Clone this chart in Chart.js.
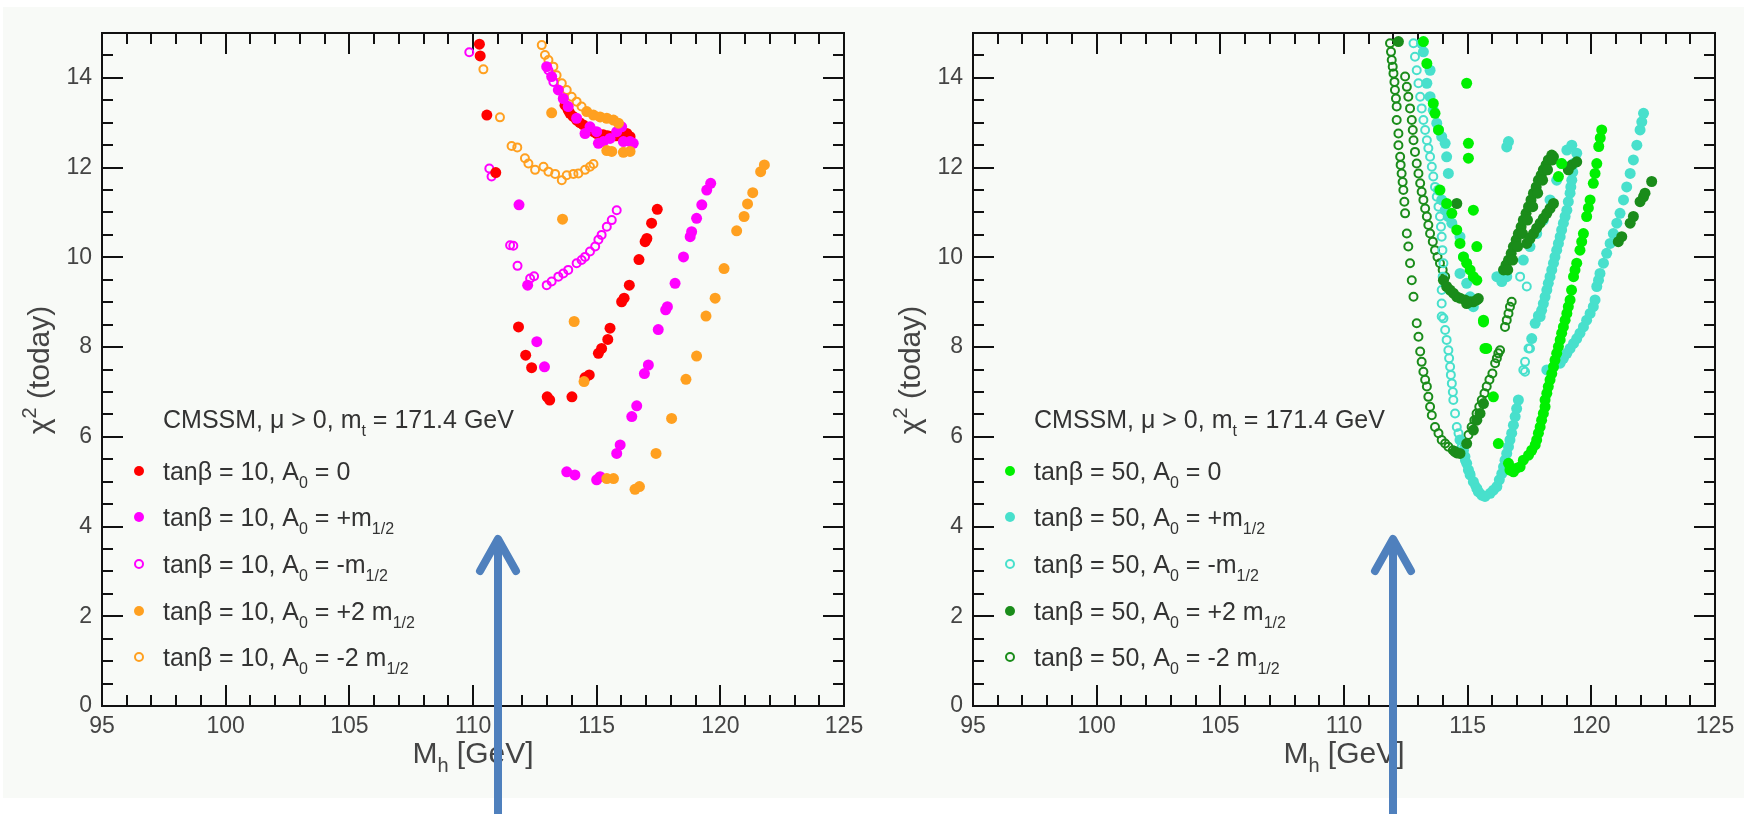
<!DOCTYPE html>
<html>
<head>
<meta charset="utf-8">
<script src="https://cdn.jsdelivr.net/npm/chart.js@4.4.1/dist/chart.umd.min.js"></script>
<style>
  html, body { margin: 0; padding: 0; background: #fff; }
  body { width: 1744px; height: 814px; position: relative; overflow: hidden; }
  #paper { position: absolute; left: 3px; top: 7px; width: 1741px; height: 791px; background: #f8faf7; }
  canvas { position: absolute; top: 0; }
  #left { left: 0; }
  #right { left: 871px; }
</style>
</head>
<body>
<div id="paper"></div>
<canvas id="left" width="872" height="814"></canvas>
<canvas id="right" width="872" height="814"></canvas>
<script>
// axis ticks
const xTicks = [95, 100, 105, 110, 115, 120, 125];
const yTicks = [0, 2, 4, 6, 8, 10, 12, 14];

const legendTitle = 'CMSSM, μ > 0, m_{t} = 171.4 GeV';
const xTitle = 'M_{h} [GeV]';
const yTitle = 'χ^{2} (today)';

// tan(beta) = 10 scan
const labels10 = [
  'tanβ = 10, A_{0} = 0',
  'tanβ = 10, A_{0} = +m_{1/2}',
  'tanβ = 10, A_{0} = -m_{1/2}',
  'tanβ = 10, A_{0} = +2 m_{1/2}',
  'tanβ = 10, A_{0} = -2 m_{1/2}'
];
const colors10 = ['#ff0000', '#ff00ff', '#ff00ff', '#ffa020', '#ffa020'];
const order10 = [2, 1, 3, 0, 4];

// tan(beta) = 50 scan
const labels50 = [
  'tanβ = 50, A_{0} = 0',
  'tanβ = 50, A_{0} = +m_{1/2}',
  'tanβ = 50, A_{0} = -m_{1/2}',
  'tanβ = 50, A_{0} = +2 m_{1/2}',
  'tanβ = 50, A_{0} = -2 m_{1/2}'
];
const colors50 = ['#00f000', '#48e0cc', '#48e0cc', '#1a8c1a', '#1a8c1a'];
const order50 = [0, 2, 3, 1, 4];

const filledMarker = [true, true, false, true, false];

// [M_h, chi^2] points
const tb10A0 = [
  [110.26,14.75],[110.29,14.49],[110.56,13.17],[110.92,11.89],[111.84,8.45],[112.13,7.82],[112.37,7.54],
  [113.0,6.89],[113.1,6.82],[114.0,6.89],[114.53,7.32],[114.7,7.38],[115.07,7.86],[115.2,7.97],
  [115.45,8.17],[115.54,8.42],[116.01,9.01],[116.11,9.09],[116.32,9.38],[116.71,9.95],[116.96,10.35],
  [117.03,10.42],[117.22,10.76],[117.45,11.07],
  [113.72,13.39],[113.85,13.28],[113.92,13.21],[114.05,13.14],[114.19,13.06],[114.32,13.0],[114.46,12.95],
  [114.6,12.9],[114.73,12.84],[114.87,12.8],[115.0,12.76],[115.13,12.74],[115.27,12.73],[115.44,12.71],
  [115.61,12.70],[115.78,12.71],[115.95,12.73],[116.08,12.74],[116.22,12.76],[116.35,12.69]
];
const tb10Plus = [
  [111.86,11.17],[112.21,9.38],[112.58,8.12],[112.89,7.56],[113.79,5.22],[114.12,5.15],[115.0,5.04],
  [115.14,5.11],[115.81,5.63],[115.95,5.82],[116.42,6.45],[116.62,6.69],[116.93,7.41],[117.09,7.60],
  [117.49,8.39],[117.79,8.83],[117.86,8.90],[118.17,9.42],[118.51,10.01],[118.78,10.46],[118.84,10.57],
  [119.04,10.87],[119.25,11.17],[119.45,11.50],[119.61,11.65],
  [112.98,14.25],[113.18,14.03],[113.45,13.73],[113.65,13.54],[113.85,13.36],[114.19,13.10],[114.53,12.76],
  [114.73,12.91],[115.0,12.80],[115.07,12.54],[115.27,12.58],[115.54,12.65],[115.81,12.80],[116.01,12.91],
  [116.08,12.58],[116.35,12.58],[116.48,12.54]
];
const tb10Minus = [
  [109.85,14.57],[110.66,11.98],[110.75,11.80],[111.5,10.27],[111.63,10.26],[111.80,9.81],[112.31,9.53],
  [112.47,9.58],[112.98,9.38],[113.18,9.46],[113.45,9.57],[113.65,9.64],[113.85,9.72],[114.19,9.87],
  [114.39,9.94],[114.53,10.01],[114.73,10.13],[114.94,10.24],[115.07,10.39],[115.2,10.50],[115.41,10.68],
  [115.61,10.83],[115.81,11.05],[113.05,14.17],[113.25,13.91]
];
const tb10Plus2 = [
  [113.18,13.22],[113.62,10.85],[114.09,8.57],[114.49,7.23],[115.41,5.07],[115.68,5.07],[116.55,4.83],
  [116.73,4.89],[117.4,5.63],[118.03,6.41],[118.61,7.28],[119.04,7.80],[119.42,8.69],[119.79,9.09],
  [120.15,9.75],[120.66,10.59],[120.96,10.91],[121.1,11.19],[121.31,11.44],[121.63,11.91],[121.78,12.06],
  [115.41,12.38],[115.61,12.36],[116.08,12.34],[116.35,12.36],
  [114.60,13.25],[114.87,13.17],[115.14,13.13],[115.41,13.10],[115.68,13.06],[115.88,12.99]
];
const tb10Minus2 = [
  [110.42,14.19],[111.09,13.12],[111.56,12.48],[111.79,12.45],[112.10,12.21],[112.24,12.09],[112.51,11.95],
  [112.85,12.02],[113.05,11.91],[113.32,11.86],[113.59,11.72],[113.79,11.83],[114.06,11.86],[114.26,11.87],
  [114.53,11.95],[114.73,12.02],[114.87,12.08],
  [112.78,14.73],[112.91,14.51],[113.05,14.40],[113.25,14.25],[113.38,14.06],[113.59,13.88],[113.79,13.73],
  [113.99,13.58],[114.19,13.47],[114.39,13.36]
];

const tb50A0 = [
  [116.65,5.41],[116.71,5.26],[116.85,5.22],[116.98,5.30],[117.12,5.33],[117.25,5.48],[117.46,5.59],
  [117.59,5.70],[117.73,5.82],[117.79,5.93],[117.86,6.08],[117.93,6.22],[117.99,6.37],[118.06,6.52],
  [118.13,6.67],[118.13,6.82],[118.20,6.97],[118.26,7.12],[118.33,7.27],[118.40,7.41],[118.47,7.56],
  [118.53,7.71],[118.60,7.86],[118.67,8.01],[118.74,8.16],[118.80,8.31],[118.87,8.45],[118.94,8.60],
  [119.01,8.75],[119.07,8.90],[119.14,9.05],[119.20,9.27],[119.28,9.57],[119.41,9.87],[119.54,10.16],
  [119.68,10.53],[119.81,10.91],[119.95,11.28],[120.08,11.65],[120.22,12.09],[120.30,12.47],[120.42,12.84],
  [120.36,12.66],[120.15,11.87],[119.88,11.10],[119.61,10.35],[119.34,9.72],
  [116.04,6.89],[116.24,5.85],[115.77,7.97],[115.64,8.56],
  [114.36,10.98],[114.56,10.61],[114.69,10.31],[114.83,10.01],[114.96,9.87],[115.10,9.72],[115.23,9.57],
  [115.37,9.49],
  [113.21,14.81],[113.35,14.32],[113.61,13.43],[113.68,13.21],[113.82,12.84],[113.88,11.50],[114.15,11.20],
  [114.96,13.88],[115.03,12.54],[115.03,12.21],[115.23,11.05],[115.37,10.24],[115.64,8.60],[115.70,7.97],
  [118.67,11.80],[118.80,12.09]
];
const tb50Plus = [
  [113.14,14.77],[113.21,14.58],[113.48,14.17],[113.35,13.88],[113.48,13.58],[113.61,13.28],[113.75,12.99],
  [113.82,12.84],[113.95,12.69],[114.09,12.54],[114.15,12.24],[114.22,11.87],[113.82,11.50],[113.95,11.28],
  [114.09,11.05],[114.22,10.91],[114.36,10.76],[114.69,10.46],[114.83,10.01],[114.69,9.64],[114.96,9.42],
  [115.10,9.12],[115.23,8.90],
  [116.18,9.57],[116.38,9.46],[116.58,9.57],
  [117.25,9.94],[117.52,10.24],[117.79,10.53],[118.06,10.83],[118.33,11.28],[118.60,11.72],[118.80,12.09],
  [119.01,12.39],[119.21,12.50],[119.41,12.32],
  [117.59,8.19],[117.73,8.53],[117.86,8.70],[117.93,8.68],[117.99,8.82],[118.06,8.97],[118.13,9.12],
  [118.20,9.27],[118.26,9.42],[118.33,9.57],[118.40,9.72],[118.47,9.87],[118.53,10.01],[118.60,10.16],
  [118.67,10.31],[118.74,10.46],[118.80,10.61],[118.87,10.76],[118.94,10.91],[119.01,11.05],[119.07,11.24],
  [119.14,11.43],[119.17,11.57],[119.21,11.72],[119.25,11.90],[119.28,12.09],
  [115.91,4.74],[116.04,4.81],[116.18,4.89],[116.28,5.04],[116.38,5.18],[116.45,5.33],[116.51,5.48],
  [116.58,5.63],[116.65,5.78],[116.71,5.93],[116.78,6.08],[116.85,6.26],[116.92,6.45],[116.98,6.63],
  [117.05,6.82],
  [114.69,5.93],[114.83,5.70],[114.89,5.56],[114.96,5.41],[115.03,5.26],[115.10,5.15],[115.23,5.00],
  [115.37,4.85],[115.43,4.78],[115.57,4.70],[115.70,4.67],
  [118.20,7.49],[118.47,7.56],[118.74,7.64],[118.87,7.75],[119.01,7.86],[119.14,7.97],[119.28,8.08],
  [119.41,8.19],[119.54,8.31],[119.68,8.45],[119.81,8.60],[119.95,8.75],[120.08,8.90],[120.15,9.05],
  [120.22,9.35],[120.29,9.49],[120.35,9.64],[120.49,9.87],[120.62,10.09],[120.76,10.31],[120.89,10.53],
  [121.03,10.76],[121.16,10.98],[121.30,11.28],[121.43,11.57],[121.57,11.87],[121.70,12.17],[121.84,12.50],
  [121.97,12.84],[122.04,13.02],[122.11,13.21],
  [116.58,12.46],[116.65,12.58]
];
const tb50Minus = [
  [112.81,14.77],[112.87,14.47],[112.94,14.17],[113.01,13.88],[113.08,13.58],[113.14,13.32],[113.21,13.06],
  [113.28,12.84],[113.35,12.61],[113.41,12.43],[113.48,12.24],[113.55,12.02],[113.61,11.80],[113.68,11.57],
  [113.75,11.35],[113.82,11.13],[113.88,10.91],[113.92,10.68],[113.95,10.46],[113.98,10.16],[114.02,9.87],
  [113.99,9.57],[113.95,9.27],[113.95,8.97],[113.95,8.68],
  [114.02,8.64],[114.09,8.38],[114.15,8.16],[114.22,7.93],[114.25,7.75],[114.29,7.56],[114.32,7.38],
  [114.36,7.19],[114.40,7.00],[114.42,6.82],[114.49,6.52],[114.56,6.22],[114.63,6.08],
  [114.76,5.78],[114.89,5.48],[115.10,5.18],[115.30,4.92],[115.50,4.74],
  [117.25,7.49],[117.32,7.67],[117.46,7.97],[117.12,9.57],[117.39,9.35],[117.52,7.97],[117.32,7.45]
];
const tb50Plus2 = [
  [114.02,9.49],[114.15,9.35],[114.29,9.27],[114.42,9.20],[114.56,9.12],[114.69,9.09],[114.89,9.05],
  [115.10,9.01],[115.23,9.01],[115.37,9.05],[115.43,9.08],[114.96,8.97],
  [116.45,9.72],[116.55,9.83],[116.65,9.94],[116.76,10.09],[116.85,10.24],[116.96,10.39],[117.05,10.53],
  [117.16,10.68],[117.25,10.83],[117.36,10.98],[117.46,11.13],[117.56,11.28],[117.66,11.43],[117.77,11.57],
  [117.86,11.72],[117.97,11.83],[118.06,11.95],[118.17,12.06],[118.26,12.17],[118.40,12.28],[118.47,12.24],
  [116.62,9.72],[116.82,9.94],[117.02,10.24],[117.22,10.53],[117.42,10.83],[117.63,11.13],[117.83,11.43],
  [118.03,11.72],[118.23,11.95],[118.43,12.17],
  [117.39,10.31],[117.52,10.42],[117.66,10.53],[117.79,10.65],[117.93,10.76],[118.06,10.87],[118.20,10.98],
  [118.33,11.09],[118.47,11.20],
  [119.07,11.95],[119.21,12.06],[119.41,12.13],
  [114.56,11.20],[112.20,14.81],
  [114.49,5.67],[114.69,5.63],[114.96,5.85],[115.23,6.15],[115.37,6.37],[115.50,6.52],[115.64,6.74],
  [121.09,10.35],[121.23,10.46],[121.57,10.76],[121.70,10.91],[121.97,11.24],[122.11,11.35],[122.17,11.43],
  [122.44,11.69]
];
const tb50Minus2 = [
  [111.86,14.77],[111.90,14.58],[111.93,14.40],[111.97,14.25],[112.00,14.10],[112.04,13.91],[112.06,13.73],
  [112.10,13.54],[112.13,13.36],[112.13,13.06],[112.20,12.76],[112.20,12.50],[112.27,12.24],[112.29,12.06],
  [112.33,11.87],[112.37,11.68],[112.40,11.50],[112.44,11.24],[112.47,10.98],[112.54,10.53],[112.60,10.24],
  [112.67,9.87],[112.74,9.49],[112.81,9.12],[112.94,8.53],
  [113.01,8.23],[113.08,7.90],[113.14,7.67],[113.21,7.45],[113.28,7.27],[113.35,7.12],[113.41,6.89],
  [113.48,6.67],[113.55,6.48],[113.68,6.22],[113.82,6.08],[113.95,5.93],[114.09,5.85],[114.22,5.78],
  [114.40,5.70],[114.56,5.63],[114.76,5.67],
  [114.89,5.85],[115.03,6.04],[115.16,6.22],[115.27,6.37],[115.36,6.52],[115.47,6.67],[115.57,6.82],
  [115.68,6.97],[115.77,7.12],[115.88,7.27],[116.00,7.41],[116.11,7.64],[116.18,7.75],[116.24,7.86],
  [116.31,7.93],[116.51,8.45],[116.58,8.60],[116.65,8.75],[116.71,8.90],[116.78,9.01],
  [112.47,14.03],[112.54,13.80],[112.60,13.58],[112.67,13.32],[112.74,13.06],[112.78,12.84],[112.81,12.61],
  [112.87,12.35],[112.94,12.09],[113.01,11.87],[113.08,11.65],[113.14,11.46],[113.21,11.28],[113.28,11.09],
  [113.35,10.91],[113.41,10.72],[113.48,10.53],[113.59,10.35],[113.68,10.16],[113.78,10.01],[113.88,9.87],
  [113.99,9.72],[114.09,9.57]
];

// where the blue arrows point on each panel
const arrowAt = [111, 112];

const FONT = "'Liberation Sans', Arial, Helvetica, sans-serif";

// draws text with _{sub} and ^{sup} pieces, y is the baseline
function drawRich(ctx, text, x, y, size, align) {
  const parts = [];
  const re = /([_^])\{([^}]*)\}/g;
  let last = 0, m;
  while ((m = re.exec(text))) {
    if (m.index > last) parts.push({ t: text.slice(last, m.index), k: '' });
    parts.push({ t: m[2], k: m[1] });
    last = re.lastIndex;
  }
  if (last < text.length) parts.push({ t: text.slice(last), k: '' });
  const small = Math.round(size * 0.65);
  const fontOf = p => (p.k ? small : size) + 'px ' + FONT;
  let w = 0;
  parts.forEach(p => { ctx.font = fontOf(p); p.w = ctx.measureText(p.t).width; w += p.w; });
  let cx = align === 'center' ? x - w / 2 : x;
  ctx.textAlign = 'left';
  ctx.textBaseline = 'alphabetic';
  parts.forEach(p => {
    ctx.font = fontOf(p);
    const dy = p.k === '_' ? size * 0.3 : p.k === '^' ? -size * 0.42 : 0;
    ctx.fillText(p.t, cx, y + dy);
    cx += p.w;
  });
}

function marker(ctx, x, y, color, filled) {
  ctx.beginPath();
  if (filled) {
    ctx.arc(x, y, 5, 0, Math.PI * 2);
    ctx.fillStyle = color;
    ctx.fill();
  } else {
    ctx.arc(x, y, 4, 0, Math.PI * 2);
    ctx.strokeStyle = color;
    ctx.lineWidth = 2;
    ctx.stroke();
  }
}

// frame with inward ticks on all four sides
const framePlugin = {
  id: 'frame',
  beforeDatasetsDraw(chart) {
    const { ctx, chartArea: a, scales: { x, y } } = chart;
    ctx.save();
    ctx.strokeStyle = '#111';
    ctx.lineWidth = 2;
    ctx.strokeRect(a.left, a.top, a.right - a.left, a.bottom - a.top);
    ctx.beginPath();
    for (let v = x.min; v <= x.max; v += 1) {
      const px = Math.round(x.getPixelForValue(v));
      const len = v % 5 === 0 ? 21 : 11;
      ctx.moveTo(px, a.bottom); ctx.lineTo(px, a.bottom - len);
      ctx.moveTo(px, a.top); ctx.lineTo(px, a.top + len);
    }
    for (let v = y.min; v <= y.max; v += 0.5) {
      const py = Math.round(y.getPixelForValue(v));
      const len = v % 2 === 0 ? 21 : 11;
      ctx.moveTo(a.left, py); ctx.lineTo(a.left + len, py);
      ctx.moveTo(a.right, py); ctx.lineTo(a.right - len, py);
    }
    ctx.stroke();
    ctx.restore();
  }
};

// legend block, axis titles and the arrow
const decorPlugin = {
  id: 'decor',
  afterDraw(chart, args, opts) {
    const { ctx, chartArea: a, scales: { x } } = chart;
    ctx.save();
    ctx.fillStyle = '#333';
    drawRich(ctx, legendTitle, a.left + 61, 428, 25);
    const rows = [471, 517, 564, 611, 657];
    chart.data.datasets.forEach((ds, i) => {
      marker(ctx, a.left + 37, rows[i], ds.pointBorderColor, ds.filled);
      ctx.fillStyle = '#333';
      drawRich(ctx, ds.label, a.left + 61, rows[i] + 9, 25);
    });

    ctx.fillStyle = '#444';
    drawRich(ctx, xTitle, (a.left + a.right) / 2, 763, 30, 'center');
    ctx.save();
    ctx.translate(a.left - 53, 370);
    ctx.rotate(-Math.PI / 2);
    drawRich(ctx, yTitle, 0, 0, 30, 'center');
    ctx.restore();

    const ax = Math.round(x.getPixelForValue(opts.arrow));
    ctx.strokeStyle = '#4f80bd';
    ctx.lineWidth = 8;
    ctx.lineCap = 'butt';
    ctx.beginPath();
    ctx.moveTo(ax, chart.height);
    ctx.lineTo(ax, 541);
    ctx.stroke();
    ctx.lineCap = 'round';
    ctx.lineJoin = 'round';
    ctx.beginPath();
    ctx.moveTo(ax - 18, 571);
    ctx.lineTo(ax, 539);
    ctx.lineTo(ax + 18, 571);
    ctx.stroke();
    ctx.restore();
  }
};

function makeDatasets(series, labels, colors, order) {
  return series.map((pts, i) => ({
    label: labels[i],
    filled: filledMarker[i],
    order: order[i],
    data: pts.map(p => ({ x: p[0], y: p[1] })),
    showLine: false,
    pointRadius: filledMarker[i] ? 5.5 : 4,
    pointBorderWidth: filledMarker[i] ? 0 : 2,
    pointBackgroundColor: filledMarker[i] ? colors[i] : 'rgba(0,0,0,0)',
    pointBorderColor: colors[i],
    pointHoverRadius: 0
  }));
}

function makeChart(id, datasets, arrow) {
  return new Chart(document.getElementById(id), {
    type: 'scatter',
    data: { datasets },
    plugins: [framePlugin, decorPlugin],
    options: {
      responsive: false,
      animation: false,
      devicePixelRatio: 1,
      events: [],
      layout: { padding: { left: 0, right: 28, top: 33, bottom: 0 } },
      plugins: {
        legend: { display: false },
        tooltip: { enabled: false },
        decor: { arrow }
      },
      scales: {
        x: {
          type: 'linear', min: 95, max: 125,
          afterBuildTicks: s => { s.ticks = xTicks.map(v => ({ value: v })); },
          afterFit: s => { s.height = 108; },
          grid: { display: false, drawTicks: false },
          border: { display: false },
          ticks: { padding: 7, color: '#444', maxRotation: 0, font: { family: FONT, size: 23 } }
        },
        y: {
          type: 'linear', min: 0, max: 15,
          afterBuildTicks: s => { s.ticks = yTicks.map(v => ({ value: v })); },
          afterFit: s => { s.width = 102; },
          grid: { display: false, drawTicks: false },
          border: { display: false },
          ticks: { padding: 10, color: '#444', font: { family: FONT, size: 23 } }
        }
      }
    }
  });
}

makeChart('left', makeDatasets([tb10A0, tb10Plus, tb10Minus, tb10Plus2, tb10Minus2], labels10, colors10, order10), arrowAt[0]);
makeChart('right', makeDatasets([tb50A0, tb50Plus, tb50Minus, tb50Plus2, tb50Minus2], labels50, colors50, order50), arrowAt[1]);
</script>
</body>
</html>
